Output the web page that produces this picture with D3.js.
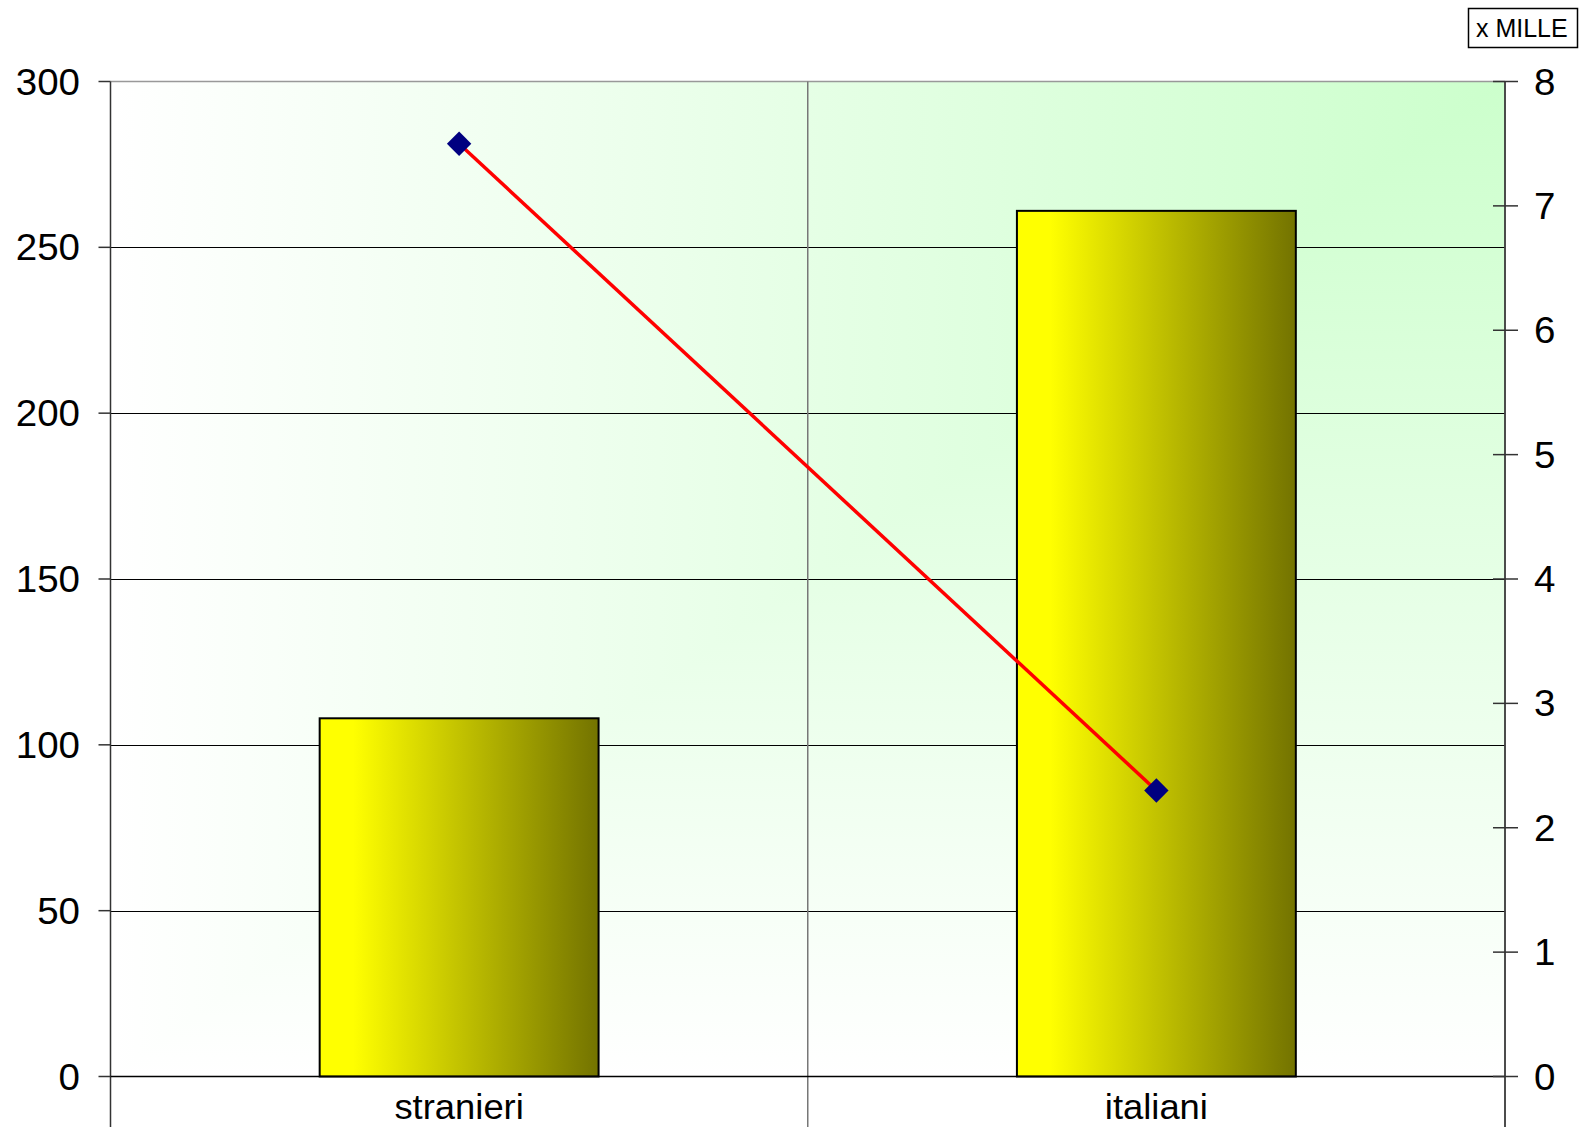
<!DOCTYPE html>
<html>
<head>
<meta charset="utf-8">
<script src="https://cdn.jsdelivr.net/npm/d3@7"></script>
<style>
  html, body { margin: 0; padding: 0; background: #fff; }
  svg { display: block; }
  text { font-family: "Liberation Sans", Arial, sans-serif; fill: #000; }
</style>
</head>
<body>
<svg id="chart" width="1579" height="1127"></svg>
<script>
// Categories and values
const categories = ["stranieri", "italiani"];
const barValues = [108, 261];        // left axis (0–300)
const lineValues = [7.5, 2.3];       // right axis (0–8), x mille
const leftTicks = [0, 50, 100, 150, 200, 250, 300];
const rightTicks = [0, 1, 2, 3, 4, 5, 6, 7, 8];
const unitLabel = "x MILLE";

const W = 1579, H = 1127;
const plot = { left: 110.5, right: 1505, top: 81.5, bottom: 1076.5 };
const svg = d3.select("#chart");

const x = d3.scaleBand().domain(categories).range([plot.left, plot.right]).paddingInner(0).paddingOuter(0);
const yL = d3.scaleLinear().domain([0, 300]).range([plot.bottom, plot.top]);
const yR = d3.scaleLinear().domain([0, 8]).range([plot.bottom, plot.top]);

const defs = svg.append("defs");
// "From corner" shading: green at the top-right corner fading to white,
// built as the lighter of a horizontal and a vertical ramp.
const gH = defs.append("linearGradient").attr("id", "bgH")
  .attr("x1", 0).attr("y1", 0).attr("x2", 1).attr("y2", 0);
gH.append("stop").attr("offset", "0%").attr("stop-color", "#ffffff");
gH.append("stop").attr("offset", "100%").attr("stop-color", "#ccffcc");
const gV = defs.append("linearGradient").attr("id", "bgV")
  .attr("x1", 0).attr("y1", 0).attr("x2", 0).attr("y2", 1);
gV.append("stop").attr("offset", "0%").attr("stop-color", "#ccffcc");
gV.append("stop").attr("offset", "100%").attr("stop-color", "#ffffff");

const barG = defs.append("linearGradient").attr("id", "barGrad")
  .attr("x1", 0).attr("y1", 0).attr("x2", 1).attr("y2", 0);
barG.append("stop").attr("offset", "0%").attr("stop-color", "#ffff00");
barG.append("stop").attr("offset", "12%").attr("stop-color", "#ffff00");
barG.append("stop").attr("offset", "100%").attr("stop-color", "#737300");

// Plot background
const bgGroup = svg.append("g").style("isolation", "isolate");
bgGroup.append("rect")
  .attr("x", plot.left).attr("y", plot.top)
  .attr("width", plot.right - plot.left).attr("height", plot.bottom - plot.top)
  .attr("fill", "url(#bgH)");
bgGroup.append("rect")
  .attr("x", plot.left).attr("y", plot.top)
  .attr("width", plot.right - plot.left).attr("height", plot.bottom - plot.top)
  .attr("fill", "url(#bgV)")
  .style("mix-blend-mode", "lighten");

// Horizontal gridlines
svg.append("g").selectAll("line").data(leftTicks.filter(d => d > 0 && d < 300)).join("line")
  .attr("x1", plot.left).attr("x2", plot.right)
  .attr("y1", d => Math.round(yL(d)) + 0.5).attr("y2", d => Math.round(yL(d)) + 0.5)
  .attr("stroke", "#000").attr("stroke-width", 1);

// Top border
svg.append("line")
  .attr("x1", plot.left).attr("x2", plot.right)
  .attr("y1", plot.top).attr("y2", plot.top)
  .attr("stroke", "#999").attr("stroke-width", 1.5);

// Category boundary lines (extend below the baseline)
const bounds = [plot.left, x(categories[1]), plot.right];
svg.append("g").selectAll("line").data(bounds).join("line")
  .attr("x1", d => d).attr("x2", d => d)
  .attr("y1", plot.top).attr("y2", H)
  .attr("stroke", (d, i) => i === 0 ? "#333" : "#777").attr("stroke-width", 1.5);

// Bars (gap width 150%)
const barW = x.bandwidth() / 2.5;
svg.append("g").selectAll("rect").data(barValues).join("rect")
  .attr("x", (d, i) => x(categories[i]) + (x.bandwidth() - barW) / 2)
  .attr("y", d => yL(d))
  .attr("width", barW)
  .attr("height", d => yL(0) - yL(d))
  .attr("fill", "url(#barGrad)")
  .attr("stroke", "#000").attr("stroke-width", 2);

// Baseline
svg.append("line")
  .attr("x1", plot.left).attr("x2", plot.right)
  .attr("y1", plot.bottom).attr("y2", plot.bottom)
  .attr("stroke", "#000").attr("stroke-width", 1.5);

// Left axis ticks and labels
const lt = svg.append("g");
lt.selectAll("line").data(leftTicks).join("line")
  .attr("x1", plot.left - 12).attr("x2", plot.left)
  .attr("y1", d => yL(d)).attr("y2", d => yL(d))
  .attr("stroke", "#333").attr("stroke-width", 1.5);
lt.selectAll("text").data(leftTicks).join("text")
  .attr("transform", d => `translate(80,${yL(d) + 13}) scale(1.07,1)`)
  .attr("text-anchor", "end")
  .attr("font-size", 36)
  .text(d => d);

// Right axis line, ticks and labels
svg.append("line")
  .attr("x1", plot.right).attr("x2", plot.right)
  .attr("y1", plot.top).attr("y2", H)
  .attr("stroke", "#333").attr("stroke-width", 1.5);
const rt = svg.append("g");
rt.selectAll("line").data(rightTicks).join("line")
  .attr("x1", plot.right - 12).attr("x2", plot.right + 13)
  .attr("y1", d => yR(d)).attr("y2", d => yR(d))
  .attr("stroke", "#333").attr("stroke-width", 1.5);
rt.selectAll("text").data(rightTicks).join("text")
  .attr("transform", d => `translate(1534,${yR(d) + 13}) scale(1.07,1)`)
  .attr("text-anchor", "start")
  .attr("font-size", 36)
  .text(d => d);

// Category labels
svg.append("g").selectAll("text").data(categories).join("text")
  .attr("transform", d => `translate(${x(d) + x.bandwidth() / 2},1119) scale(1.04,1)`)
  .attr("text-anchor", "middle")
  .attr("font-size", 35)
  .text(d => d);

// Line series on right axis
const line = d3.line()
  .x((d, i) => x(categories[i]) + x.bandwidth() / 2)
  .y(d => yR(d));
svg.append("path")
  .datum(lineValues)
  .attr("d", line)
  .attr("fill", "none")
  .attr("stroke", "#ff0000").attr("stroke-width", 3.5);

svg.append("g").selectAll("path").data(lineValues).join("path")
  .attr("d", d3.symbol().type(d3.symbolDiamond2).size(380))
  .attr("transform", (d, i) => `translate(${x(categories[i]) + x.bandwidth() / 2},${yR(d)})`)
  .attr("fill", "#000080");

// Unit box
const ub = svg.append("g");
ub.append("rect")
  .attr("x", 1468.5).attr("y", 8.5).attr("width", 109).attr("height", 39)
  .attr("fill", "#fff").attr("stroke", "#000").attr("stroke-width", 1.5);
ub.append("text")
  .attr("x", 1476).attr("y", 37)
  .attr("font-size", 25)
  .text(unitLabel);
</script>
</body>
</html>
